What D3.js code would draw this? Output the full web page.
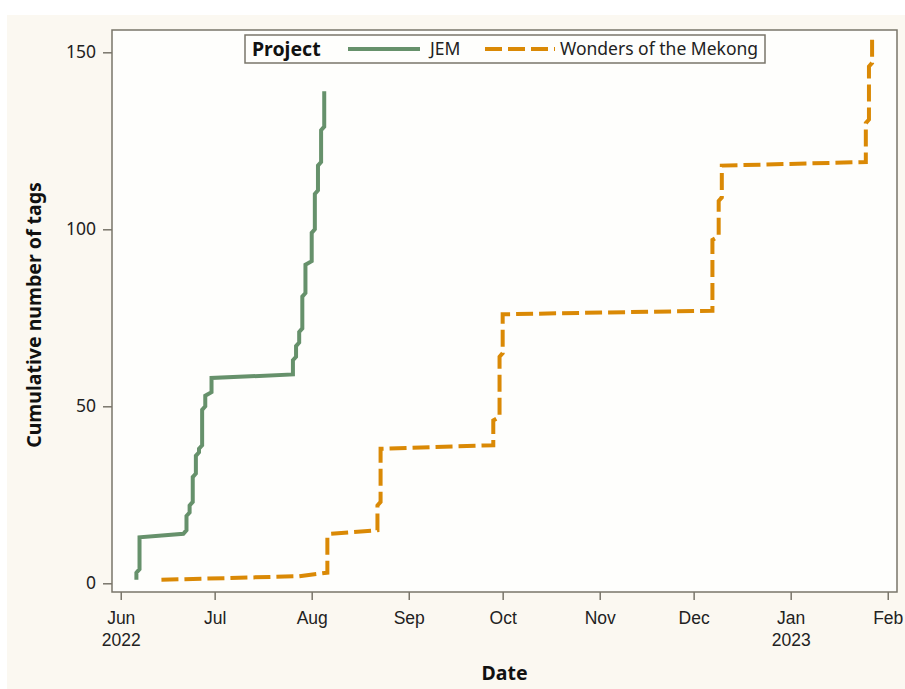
<!DOCTYPE html>
<html>
<head>
<meta charset="utf-8">
<script src="https://cdn.jsdelivr.net/npm/d3@7"></script>
<style>
  body { margin: 0; background: #ffffff; }
  svg { display: block; font-family: "Noto Sans", "Open Sans", sans-serif; }
</style>
</head>
<body>
<div id="chart"></div>
<script>
// cumulative tag counts, several entries on one day give the vertical runs
const jemDates = [
  "2022-06-06", "2022-06-06", "2022-06-07", "2022-06-07", "2022-06-21",
  "2022-06-22", "2022-06-22", "2022-06-23", "2022-06-23", "2022-06-24", "2022-06-24",
  "2022-06-25", "2022-06-25", "2022-06-26", "2022-06-26", "2022-06-27", "2022-06-27",
  "2022-06-28", "2022-06-28", "2022-06-30", "2022-06-30",
  "2022-07-26", "2022-07-26", "2022-07-27", "2022-07-27", "2022-07-28", "2022-07-28",
  "2022-07-29", "2022-07-29", "2022-07-30", "2022-07-30", "2022-08-01", "2022-08-01",
  "2022-08-02", "2022-08-02", "2022-08-03", "2022-08-03", "2022-08-04", "2022-08-04",
  "2022-08-05", "2022-08-05"
];
const jemTags = [
  1, 3, 4, 13, 14,
  15, 19, 20, 22, 23, 30,
  31, 36, 37, 38, 39, 49,
  50, 53, 54, 58,
  59, 63, 64, 67, 68, 71,
  72, 81, 82, 90, 91, 99,
  100, 110, 111, 118, 119, 128,
  129, 139
];

const mekongDates = [
  "2022-06-14", "2022-07-28", "2022-08-06", "2022-08-06", "2022-08-07",
  "2022-08-22", "2022-08-22", "2022-08-23", "2022-08-23",
  "2022-09-28", "2022-09-28", "2022-09-30", "2022-09-30", "2022-10-01", "2022-10-01",
  "2022-12-07", "2022-12-07", "2022-12-09", "2022-12-09", "2022-12-10", "2022-12-10",
  "2023-01-25", "2023-01-25", "2023-01-26", "2023-01-26", "2023-01-27", "2023-01-27"
];
const mekongTags = [
  1, 2, 3, 13, 14,
  15, 22, 23, 38,
  39, 46, 47, 64, 65, 76,
  77, 97, 98, 108, 109, 118,
  119, 130, 131, 146, 147, 154
];

const projects = ["JEM", "Wonders of the Mekong"];
const yTicks = [0, 50, 100, 150];

const width = 905, height = 689;
const plotLeft = 112, plotRight = 897, plotTop = 30, plotBottom = 592;

const parse = d3.timeParse("%Y-%m-%d");
const series = [
  { name: projects[0], color: "#66916b", dash: null,
    values: jemDates.map((d, i) => ({ date: parse(d), n: jemTags[i] })) },
  { name: projects[1], color: "#da8905", dash: "17,6",
    values: mekongDates.map((d, i) => ({ date: parse(d), n: mekongTags[i] })) }
];

const x = d3.scaleTime()
  .domain([new Date(2022, 4, 29, 5), new Date(2023, 1, 3, 23)])
  .range([plotLeft, plotRight]);

const y = d3.scaleLinear()
  .domain([-2.46, 156.3])
  .range([plotBottom, plotTop]);

const svg = d3.select("#chart").append("svg")
  .attr("width", width)
  .attr("height", height);

svg.append("rect")
  .attr("x", 7).attr("y", 15)
  .attr("width", width - 7).attr("height", height - 15)
  .attr("fill", "#fbf8f1");

svg.append("rect")
  .attr("x", plotLeft).attr("y", plotTop)
  .attr("width", plotRight - plotLeft).attr("height", plotBottom - plotTop)
  .attr("fill", "#fefefc");

// axes
let xAxis = svg.append("g")
  .attr("transform", "translate(0," + plotBottom + ")")
  .call(d3.axisBottom(x)
    .ticks(d3.timeMonth.every(1))
    .tickSize(8)
    .tickSizeOuter(0)
    .tickFormat(""));

xAxis.selectAll(".tick text").remove();
xAxis.selectAll(".tick").each(function(d) {
  let t = d3.select(this).append("text")
    .attr("fill", "#222")
    .attr("text-anchor", "middle")
    .attr("font-size", 17.5)
    .attr("y", 32);
  t.append("tspan").attr("x", 0).text(d3.timeFormat("%b")(d));
  if (d.getMonth() == 5 || d.getMonth() == 0) {
    t.append("tspan").attr("x", 0).attr("dy", 22).text(d.getFullYear());
  }
});

let yAxis = svg.append("g")
  .attr("transform", "translate(" + plotLeft + ",0)")
  .call(d3.axisLeft(y)
    .tickValues(yTicks)
    .tickSize(9)
    .tickSizeOuter(0));

yAxis.selectAll(".tick text")
  .attr("fill", "#222")
  .attr("font-size", 17.5)
  .attr("font-family", "Noto Sans, sans-serif")
  .attr("x", -16);

svg.selectAll(".domain").remove();
svg.selectAll(".tick line")
  .attr("stroke", "#79756a")
  .attr("stroke-width", 1.5);

// lines
let line = d3.line()
  .x(function(d) { return x(d.date); })
  .y(function(d) { return y(d.n); });

svg.append("g").selectAll("path")
  .data(series)
  .enter().append("path")
  .attr("d", function(d) { return line(d.values); })
  .attr("fill", "none")
  .attr("stroke", function(d) { return d.color; })
  .attr("stroke-width", 4)
  .attr("stroke-dasharray", function(d) { return d.dash; });

// frame
svg.append("rect")
  .attr("x", plotLeft).attr("y", plotTop)
  .attr("width", plotRight - plotLeft).attr("height", plotBottom - plotTop)
  .attr("fill", "none")
  .attr("stroke", "#79756a")
  .attr("stroke-width", 1.5);

// axis titles
svg.append("text")
  .attr("x", (plotLeft + plotRight) / 2)
  .attr("y", 680)
  .attr("text-anchor", "middle")
  .attr("font-size", 19.5)
  .attr("font-weight", "bold")
  .attr("fill", "#111")
  .text("Date");

svg.append("text")
  .attr("transform", "translate(41," + ((plotTop + plotBottom) / 2 + 4) + ") rotate(-90)")
  .attr("text-anchor", "middle")
  .attr("font-size", 19.5)
  .attr("font-weight", "bold")
  .attr("fill", "#111")
  .text("Cumulative number of tags");

// legend
let legend = svg.append("g").attr("transform", "translate(245,35)");

legend.append("rect")
  .attr("width", 520).attr("height", 28)
  .attr("fill", "#fefefc")
  .attr("stroke", "#79756a")
  .attr("stroke-width", 1.5);

legend.append("text")
  .attr("x", 7).attr("y", 21)
  .attr("font-size", 19.5)
  .attr("font-weight", "bold")
  .attr("fill", "#111")
  .text("Project");

let lx = [103, 240];
let legendItem = legend.selectAll(".item")
  .data(series)
  .enter().append("g")
  .attr("class", "item")
  .attr("transform", function(d, i) { return "translate(" + lx[i] + ",14)"; });

legendItem.append("line")
  .attr("x1", 0).attr("x2", function(d, i) { return i == 0 ? 72 : 70; })
  .attr("stroke", function(d) { return d.color; })
  .attr("stroke-width", 4)
  .attr("stroke-dasharray", function(d) { return d.dash; });

legendItem.append("text")
  .attr("x", function(d, i) { return i == 0 ? 82 : 75; })
  .attr("y", 6)
  .attr("font-size", 17.5)
  .attr("fill", "#222")
  .text(function(d) { return d.name; });
</script>
</body>
</html>
